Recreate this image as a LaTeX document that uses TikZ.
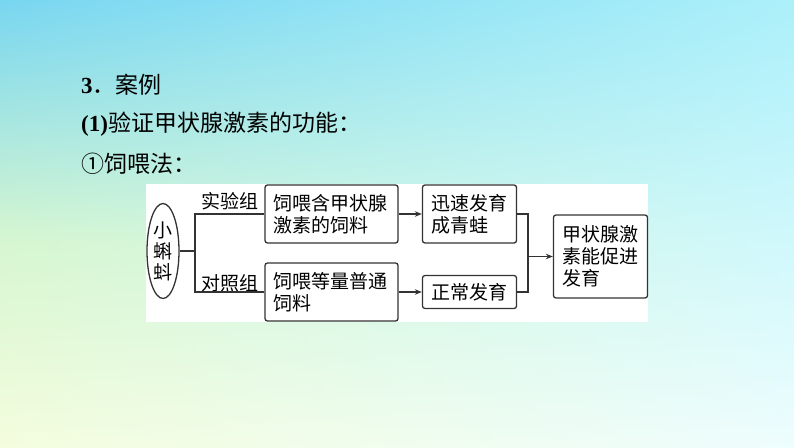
\documentclass[tikz,border=0pt]{standalone}
\usepackage{fontspec}
\setmainfont{Liberation Serif}
\newfontfamily\cjk{Noto Sans CJK SC}
\usetikzlibrary{arrows.meta,shapes.geometric,shadings}
\definecolor{bgTL}{RGB}{120,214,240}
\definecolor{bgTR}{RGB}{172,240,250}
\definecolor{bgML}{RGB}{214,246,208}
\definecolor{bgMR}{RGB}{208,248,252}
\definecolor{bgBL}{RGB}{244,253,222}
\definecolor{bgBR}{RGB}{238,253,254}
\tikzset{
	box/.style={draw=black!80, line width=1.3pt, rounded corners=2.5pt, fill=white, align=left,
		inner xsep=8.5pt, inner ysep=0pt, font=\cjk\fontsize{19}{22}\selectfont},
	lbl/.style={inner sep=0pt, font=\cjk\fontsize{19}{22}\selectfont},
	head/.style={anchor=west, inner sep=0pt, font=\cjk\fontsize{23}{27}\selectfont},
	link/.style={draw=black!80, line width=1.3pt},
	arr/.style={link, -{Stealth[length=7pt,width=5.5pt]}}
}

\begin{document}
\begin{tikzpicture}[x=1pt,y=-1pt]
\useasboundingbox (0,0) rectangle (794,447);
\shade[upper left=bgTL, upper right=bgTR, lower left=bgML, lower right=bgMR] (0,0) rectangle (794,241);
\shade[upper left=bgML, upper right=bgMR, lower left=bgBL, lower right=bgBR] (0,240) rectangle (794,447);
\fill[white] (146,184) rectangle (648,322);

\path (81,85) node[head] (h3) {{\rmfamily\bfseries 3}．案例}
		(81,124) node[head] (h1) {{\rmfamily\bfseries (1)}验证甲状腺激素的功能：}
		(81,164) node[head] (hf) {①饲喂法：}
		(163,251) node[ellipse, draw=black!80, line width=1.3pt, fill=white, inner sep=0pt,
			minimum width=32pt, minimum height=95pt, align=center,
			font=\cjk\fontsize{19}{21}\selectfont] (tad) {小\\蝌\\蚪}
		(230,201) node[lbl] (expL) {实验组}
		(230,283) node[lbl] (ctlL) {对照组}
		(331.5,214) node[box, text width=116pt, minimum height=58pt] (feedA) {饲喂含甲状腺\\激素的饲料}
		(331.5,292) node[box, text width=116pt, minimum height=58pt] (feedB) {饲喂等量普通\\饲料}
		(469.5,214) node[box, text width=77pt, minimum height=58pt] (fastG) {迅速发育\\成青蛙}
		(469.5,292) node[box, text width=77pt, minimum height=33pt] (normG) {正常发育}
		(600.5,256.5) node[box, text width=77pt, minimum height=83pt] (concl) {甲状腺激\\素能促进\\发育}
		;
\coordinate (split) at (195,251);
\coordinate (join) at (528,256.5);

\draw[link] (node cs:name=tad, anchor=east) -- (split);
\draw[link] (split) |- (node cs:name=feedA, anchor=west);
\draw[link] (split) |- (node cs:name=feedB, anchor=west);
\draw[arr] (node cs:name=feedA, anchor=east) -- (node cs:name=fastG, anchor=west);
\draw[arr] (node cs:name=feedB, anchor=east) -- (node cs:name=normG, anchor=west);
\draw[link] (node cs:name=fastG, anchor=east) -| (join);
\draw[link] (node cs:name=normG, anchor=east) -| (join);
\draw[arr] (join) -- (node cs:name=concl, anchor=west);
\end{tikzpicture}
\end{document}
